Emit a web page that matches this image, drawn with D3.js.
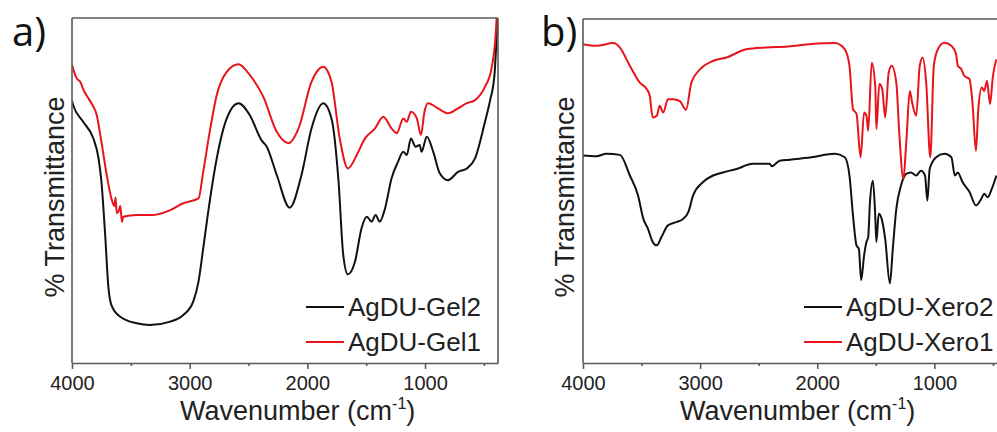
<!DOCTYPE html>
<html>
<head>
<meta charset="utf-8">
<script src="https://cdn.jsdelivr.net/npm/d3@7"></script>
<style>
  body { margin: 0; background: #fff; }
  svg { display: block; font-family: Arial, "Liberation Sans", sans-serif; }
</style>
</head>
<body>
<script>
// wavenumber (cm-1) and relative transmittance (arbitrary, spectra offset)
const gel2Wn = [4000, 3995, 3905, 3820, 3775, 3750, 3720, 3690, 3665, 3590, 3450, 3340, 3165, 3055, 2970, 2925, 2885, 2830, 2770, 2685, 2585, 2490, 2390, 2345, 2260, 2150, 2050, 1965, 1865, 1795, 1735, 1695, 1655, 1595, 1540, 1495, 1455, 1420, 1385, 1340, 1285, 1230, 1185, 1155, 1120, 1080, 1045, 1030, 985, 930, 875, 805, 720, 645, 575, 490, 450, 410, 390, 380]
const gel2T = [76, 75.3, 69.9, 65.2, 59.4, 52.6, 38.1, 21.7, 16.8, 13.4, 11.5, 11.0, 12.0, 13.9, 17.8, 23.6, 33.2, 46.8, 59.3, 70.9, 75.3, 71.9, 64.6, 62.7, 54.5, 45.0, 54.5, 68.0, 75.3, 70.9, 52.6, 31.3, 25.7, 29.4, 39.0, 42.4, 41.0, 42.9, 41.0, 44.8, 53.5, 58.3, 61.2, 60.3, 65.1, 62.7, 63.2, 61.2, 65.6, 61.2, 55.0, 53.0, 55.4, 56.4, 59.3, 70.0, 75.7, 83.5, 95.1, 100]

const gel1Wn = [4000, 3960, 3930, 3900, 3860, 3830, 3790, 3750, 3705, 3665, 3640, 3630, 3620, 3605, 3590, 3575, 3565, 3450, 3310, 3165, 3055, 2925, 2885, 2830, 2770, 2685, 2585, 2490, 2375, 2260, 2160, 2075, 1965, 1865, 1795, 1725, 1655, 1580, 1510, 1425, 1355, 1285, 1240, 1185, 1155, 1120, 1070, 1035, 1005, 975, 890, 805, 720, 645, 575, 490, 435, 400, 390]
const gel1T = [86.4, 82.5, 81.5, 79.0, 76.7, 75.0, 71.9, 64.1, 54.5, 47.7, 45.5, 48.0, 43.5, 43.9, 45.5, 40.9, 42.4, 42.9, 42.9, 44.3, 46.3, 47.7, 55.4, 67.0, 77.7, 84.4, 86.6, 83.5, 77.2, 67.0, 63.7, 68.0, 81.5, 85.9, 81.5, 65.1, 56.4, 60.3, 65.1, 68.0, 71.4, 68.0, 66.6, 70.9, 69.9, 72.8, 70.9, 66.1, 72.8, 75.3, 73.8, 72.4, 73.8, 75.3, 76.2, 80.1, 85.4, 95.1, 101]

const xero2Wn = [4000, 3885, 3800, 3685, 3600, 3530, 3485, 3445, 3405, 3370, 3330, 3275, 3200, 3145, 3100, 3060, 2975, 2890, 2805, 2690, 2550, 2405, 2390, 2320, 2235, 2050, 1850, 1765, 1725, 1695, 1665, 1645, 1625, 1600, 1580, 1565, 1550, 1525, 1505, 1495, 1475, 1450, 1420, 1380, 1355, 1325, 1285, 1240, 1200, 1155, 1115, 1080, 1060, 1040, 985, 915, 855, 825, 800, 760, 700, 645, 600, 575, 545, 510, 470]
const xero2T = [60.3, 60.1, 60.8, 60.5, 54.5, 48.7, 41.9, 39.0, 35.2, 34.2, 36.6, 40.0, 41.0, 41.9, 43.9, 48.7, 52.6, 54.5, 55.4, 56.4, 57.9, 57.9, 57.2, 58.8, 59.1, 59.8, 60.8, 59.8, 54.5, 42.9, 34.2, 33.2, 24.1, 31.3, 35.2, 36.6, 46.8, 53.0, 42.9, 35.2, 43.4, 41.9, 36.1, 23.1, 33.2, 44.8, 51.6, 55.0, 55.4, 54.5, 55.9, 54.5, 47.2, 56.4, 59.8, 60.8, 59.8, 54.5, 55.4, 52.6, 49.7, 45.8, 47.7, 49.2, 48.2, 50.6, 54.5]

const xero1Wn = [4000, 3885, 3740, 3685, 3600, 3515, 3455, 3430, 3405, 3370, 3345, 3315, 3275, 3230, 3175, 3120, 3075, 3000, 2890, 2775, 2605, 2435, 2250, 2050, 1850, 1765, 1725, 1695, 1665, 1630, 1600, 1580, 1565, 1535, 1505, 1495, 1470, 1445, 1420, 1390, 1365, 1325, 1300, 1265, 1240, 1210, 1190, 1155, 1125, 1100, 1070, 1035, 1005, 970, 915, 855, 815, 800, 770, 745, 700, 675, 645, 625, 595, 575, 550, 525, 500, 470]
const xero1T = [92.7, 92.2, 93.0, 91.7, 86.4, 81.5, 79.6, 77.7, 71.4, 71.9, 74.8, 72.8, 76.7, 76.7, 76.2, 73.6, 81.5, 85.4, 87.8, 88.8, 91.2, 91.7, 92.0, 92.7, 93.0, 91.2, 86.4, 73.8, 72.4, 59.8, 72.8, 71.9, 67.5, 87.3, 80.6, 68.0, 81.1, 79.6, 71.4, 84.4, 86.4, 81.5, 67.0, 53.5, 64.1, 79.1, 75.7, 71.9, 86.4, 88.8, 81.5, 59.8, 86.4, 91.2, 93.1, 92.2, 89.8, 86.4, 85.4, 83.5, 82.5, 75.7, 61.7, 73.8, 80.1, 79.1, 82.0, 75.3, 83.5, 88.3]

const xTicks = [4000, 3000, 2000, 1000]
const xMinor = [3500, 2500, 1500, 500]

const panels = [
  { tag: 'a)', left: 72, right: 498, top: 18, frameRight: true,
    series: [[gel2Wn, gel2T, '#111'], [gel1Wn, gel1T, '#e8141b']],
    names: ['AgDU-Gel2', 'AgDU-Gel1'], legendX: 306, tagX: 12, ylabX: 64, titleX: 180 },
  { tag: 'b)', left: 583, right: 1007, top: 19, frameRight: false,
    series: [[xero2Wn, xero2T, '#111'], [xero1Wn, xero1T, '#e8141b']],
    names: ['AgDU-Xero2', 'AgDU-Xero1'], legendX: 804, tagX: 541, ylabX: 574, titleX: 680 }
]

const W = 997, H = 432, bottom = 363
const svg = d3.select('body').append('svg').attr('width', W).attr('height', H)

panels.forEach((p, i) => {
  const x = d3.scaleLinear().domain([4000, 380]).range([p.left, p.right])
  const y = d3.scaleLinear().domain([0, 100]).range([bottom, p.top])

  const g = svg.append('g')

  g.append('clipPath').attr('id', 'clip' + i)
    .append('rect').attr('x', p.left).attr('y', p.top)
    .attr('width', p.right - p.left).attr('height', bottom - p.top)

  const line = d3.line().x(d => x(d[0])).y(d => y(d[1])).curve(d3.curveMonotoneX)

  p.series.forEach(s => {
    const pts = s[0].map((w, k) => [w, s[1][k]])
    g.append('path').datum(pts)
      .attr('clip-path', `url(#clip${i})`)
      .attr('d', line)
      .attr('fill', 'none')
      .attr('stroke', s[2])
      .attr('stroke-width', 2)
      .attr('stroke-linejoin', 'round')
  })

  // frame
  const fr = g.append('g').attr('stroke', '#5a5a5a').attr('stroke-width', 1.6).attr('fill', 'none')
  fr.append('line').attr('x1', p.left).attr('x2', p.left).attr('y1', p.top).attr('y2', bottom)
  fr.append('line').attr('x1', p.left).attr('x2', p.right).attr('y1', p.top).attr('y2', p.top)
  if (p.frameRight) fr.append('line').attr('x1', p.right).attr('x2', p.right).attr('y1', p.top).attr('y2', bottom)

  // bottom axis
  const ax = g.append('g').attr('transform', `translate(0,${bottom})`)
    .call(d3.axisBottom(x).tickValues(xTicks).tickFormat(d3.format('d'))
      .tickSize(6).tickPadding(7).tickSizeOuter(0))
  ax.select('.domain').attr('stroke', '#5a5a5a').attr('stroke-width', 1.6)
  ax.selectAll('.tick line').attr('stroke', '#5a5a5a').attr('stroke-width', 1.6)
  ax.selectAll('.tick text').attr('font-size', 20).attr('fill', '#222')
    .attr('font-family', 'Arial, "Liberation Sans", sans-serif')
  const mn = g.append('g').attr('transform', `translate(0,${bottom})`)
    .call(d3.axisBottom(x).tickValues(xMinor).tickSize(3).tickFormat(''))
  mn.select('.domain').remove()
  mn.selectAll('.tick line').attr('stroke', '#5a5a5a').attr('stroke-width', 1.6)

  // axis titles
  const t = g.append('text').attr('x', p.titleX).attr('y', 420)
    .attr('font-size', 27).attr('fill', '#222')
  t.append('tspan').text('Wavenumber (cm')
  t.append('tspan').attr('font-size', 16).attr('dy', -11).text('-1')
  t.append('tspan').attr('dy', 11).text(')')

  g.append('text')
    .attr('transform', `translate(${p.ylabX},197) rotate(-90)`)
    .attr('text-anchor', 'middle').attr('font-size', 27).attr('fill', '#222')
    .text('% Transmittance')

  g.append('text').attr('x', p.tagX).attr('y', 46)
    .attr('font-family', '"Open Sans", sans-serif').attr('font-size', 40).attr('fill', '#111')
    .text(p.tag)

  // legend
  p.names.forEach((n, k) => {
    const ly = 307 + k * 35
    g.append('line').attr('x1', p.legendX).attr('x2', p.legendX + 38)
      .attr('y1', ly).attr('y2', ly)
      .attr('stroke', p.series[k][2]).attr('stroke-width', 2)
    g.append('text').attr('x', p.legendX + 42).attr('y', ly + 9)
      .attr('font-size', 26).attr('fill', '#222').text(n)
  })
})
</script>
</body>
</html>
